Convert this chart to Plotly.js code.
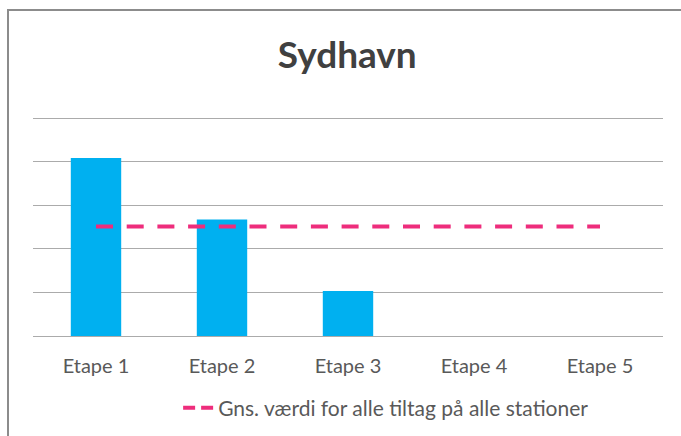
<!DOCTYPE html>
<html>
<head>
<meta charset="utf-8">
<script src="https://cdn.plot.ly/plotly-3.0.1.min.js"></script>
<style>html,body{margin:0;padding:0;background:#fff;overflow:hidden}</style>
</head>
<body>
<div id="chart" style="width:681px;height:436px"></div>
<script>
const categories = ["Etape 1", "Etape 2", "Etape 3", "Etape 4", "Etape 5"];
const barValues = [4.08, 2.67, 1.03, 0, 0];
const avgValues = [2.51, 2.51, 2.51, 2.51, 2.51];
const avgName = "Gns. værdi for alle tiltag på alle stationer";
const chartTitle = "Sydhavn";

const font = "Lato, 'Open Sans', sans-serif";
const pink = "#EE2D7C";

const traces = [
  {
    type: "bar",
    x: categories,
    y: barValues,
    marker: {color: "#00B0F0"},
    showlegend: false,
    hoverinfo: "x+y"
  },
  {
    type: "scatter",
    mode: "lines",
    x: categories,
    y: avgValues,
    name: avgName,
    showlegend: false,
    line: {color: pink, width: 4, dash: "17px,13.7px"}
  },
  {
    // legend entry for the average line (shorter dashes so two fit in the legend symbol)
    type: "scatter",
    mode: "lines",
    x: [null],
    y: [null],
    name: avgName,
    showlegend: true,
    line: {color: pink, width: 4, dash: "12px,6px"}
  }
];

const layout = {
  width: 681,
  height: 436,
  margin: {l: 33, r: 18, t: 116, b: 100},
  paper_bgcolor: "#fff",
  plot_bgcolor: "#fff",
  font: {family: font, color: "#595959", size: 21},
  title: {
    text: "<b>" + chartTitle + "</b>",
    font: {family: font, size: 37, color: "#404040"},
    x: 0.51, xanchor: "center",
    yref: "container", y: 0.874, yanchor: "middle"
  },
  bargap: 0.6,
  xaxis: {
    type: "category",
    showgrid: false,
    showline: false,
    ticks: "",
    ticklabelstandoff: 16,
    tickfont: {family: font, size: 20, color: "#595959"},
    automargin: false,
    fixedrange: true
  },
  yaxis: {
    range: [0, 220 / 43.6],
    tick0: 0,
    dtick: 1,
    showticklabels: false,
    showgrid: true,
    gridcolor: "#ABABAB",
    gridwidth: 1,
    zeroline: true,
    zerolinecolor: "#ABABAB",
    zerolinewidth: 1,
    ticks: "",
    automargin: false,
    fixedrange: true
  },
  showlegend: true,
  legend: {
    orientation: "h",
    xref: "container", x: 0.567, xanchor: "center",
    yref: "container", y: (436 - 408) / 436, yanchor: "middle",
    font: {family: font, size: 21, color: "#595959"},
    bgcolor: "rgba(0,0,0,0)"
  },
  shapes: [
    {
      type: "line", xref: "paper", yref: "paper",
      x0: (8 - 33) / 630, x1: (8 - 33) / 630,
      y0: (336 - 10) / 220, y1: (336 - 460) / 220,
      line: {color: "#8C8C8C", width: 2}
    },
    {
      type: "line", xref: "paper", yref: "paper",
      x0: (7 - 33) / 630, x1: (700 - 33) / 630,
      y0: (336 - 10) / 220, y1: (336 - 10) / 220,
      line: {color: "#8C8C8C", width: 2}
    }
  ]
};

Plotly.newPlot("chart", traces, layout, {displayModeBar: false, staticPlot: true});
</script>
</body>
</html>
